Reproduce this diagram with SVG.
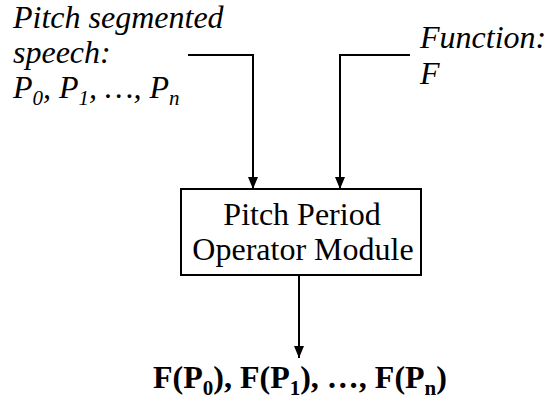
<svg xmlns="http://www.w3.org/2000/svg" width="546" height="404" viewBox="0 0 546 404">
<style>
.it{font-style:italic;font-size:32px}
.lab{font-size:32px}
.bd{font-weight:bold;font-size:32px}
.sub{font-size:21px}
.ln{fill:none;stroke:#000;stroke-width:2}
</style>
<defs>
<marker id="ah" markerWidth="12" markerHeight="10" refX="12" refY="5" orient="auto" markerUnits="userSpaceOnUse" viewBox="0 0 12 10">
<path d="M0,0 L12,5 L0,10 Z" fill="#000"/>
</marker>
</defs>
<rect width="546" height="404" fill="#fff"/>
<g font-family="Liberation Serif, Times New Roman, serif" fill="#000">
<g id="input-speech">
<text class="it" x="13" y="28">Pitch segmented</text>
<text class="it" x="13" y="63">speech:</text>
<text class="it" x="13" y="98">P<tspan class="sub" dy="7">0</tspan><tspan dy="-7">, P</tspan><tspan class="sub" dy="7">1</tspan><tspan dy="-7">, …, P</tspan><tspan class="sub" dy="7">n</tspan></text>
</g>
<g id="input-function">
<text class="it" x="420" y="48">Function:</text>
<text class="it" x="420" y="84">F</text>
</g>
<g id="module">
<rect x="181" y="189" width="240" height="86" fill="#fff" stroke="#000" stroke-width="2"/>
<text class="lab" x="302" y="225" text-anchor="middle">Pitch Period</text>
<text class="lab" x="303" y="260" text-anchor="middle">Operator Module</text>
</g>
<g id="output">
<text class="bd" x="300" y="388" text-anchor="middle">F(P<tspan class="sub" dy="7">0</tspan><tspan dy="-7">), F(P</tspan><tspan class="sub" dy="7">1</tspan><tspan dy="-7">), …, F(P</tspan><tspan class="sub" dy="7">n</tspan><tspan dy="-7">)</tspan></text>
</g>
</g>
<g id="connectors">
<path class="ln" d="M188,55 H253 V189" marker-end="url(#ah)"/>
<path class="ln" d="M410,55 H340 V189" marker-end="url(#ah)"/>
<path class="ln" d="M299,275 V358" marker-end="url(#ah)"/>
</g>
</svg>
